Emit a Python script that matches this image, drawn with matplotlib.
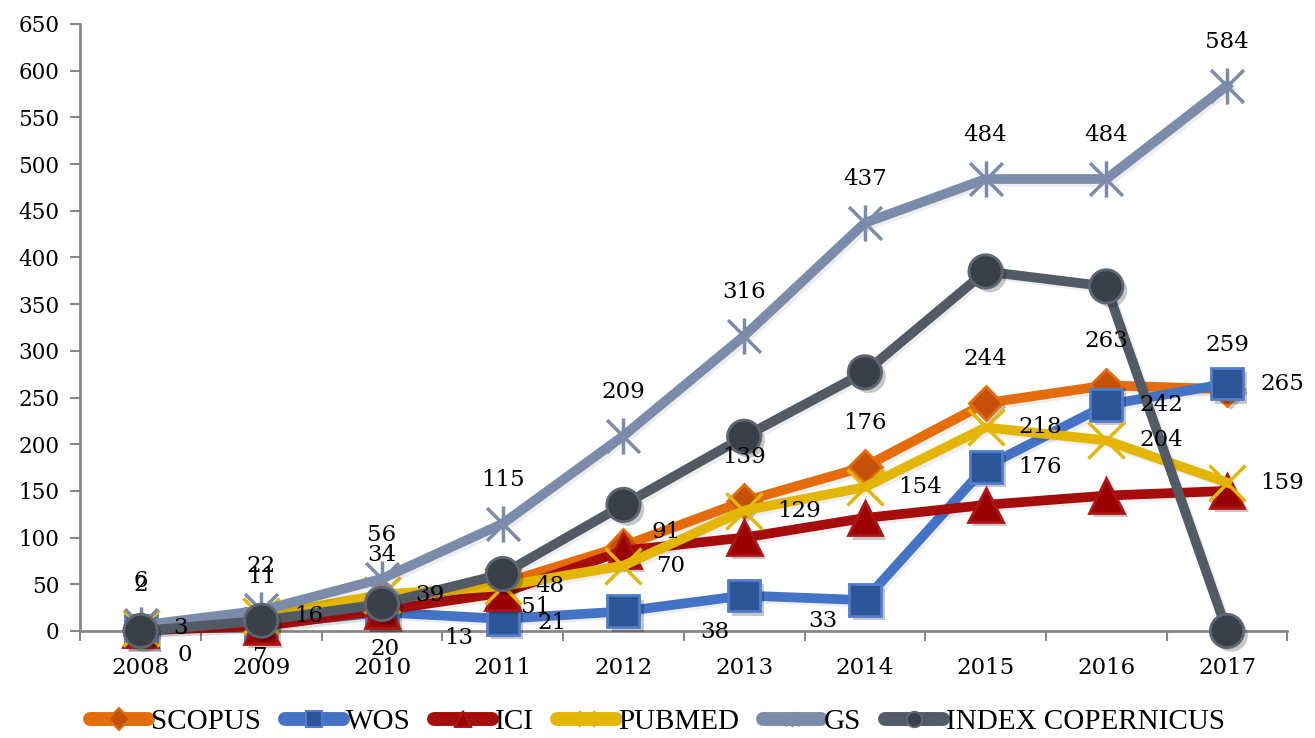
import matplotlib
matplotlib.use("Agg")
import matplotlib.pyplot as plt
import matplotlib.patheffects as pe
from matplotlib.path import Path
from matplotlib.lines import Line2D

# données
years = ["2008", "2009", "2010", "2011", "2012", "2013", "2014", "2015", "2016", "2017"]
scopus = [2, 11, 34, 51, 91, 139, 176, 244, 263, 259]
wos = [0, 7, 20, 13, 21, 38, 33, 176, 242, 265]
ici = [1, 5, 22, 41, 86, 100, 121, 135, 145, 150]
pubmed = [3, 16, 39, 48, 70, 129, 154, 218, 204, 159]
gs = [6, 22, 56, 115, 209, 316, 437, 484, 484, 584]
copernicus = [0, 11, 29, 61, 135, 208, 277, 385, 369, 0]

# marqueur "étoile" façon Excel (X + barre verticale)
star = Path([(-0.5, -0.5), (0.5, 0.5), (-0.5, 0.5), (0.5, -0.5), (0, -0.55), (0, 0.55)],
            [Path.MOVETO, Path.LINETO, Path.MOVETO, Path.LINETO, Path.MOVETO, Path.LINETO])

series = [
    # nom, valeurs, couleur ligne, marqueur, taille, face, bord, position étiquettes
    ("SCOPUS", scopus, "#E46C0A", "D", 17, "#C4510A", "#E46C0A", "above"),
    ("WOS", wos, "#4472C4", "s", 23, "#2D5597", "#4F7CCB", "right"),
    ("ICI", ici, "#A50D0D", "^", 25, "#9A0000", "#B01515", None),
    ("PUBMED", pubmed, "#E3B505", "x", 26, "none", "#E3B505", "right"),
    ("GS", gs, "#7B8BAA", star, 26, "none", "#7B8BAA", "above"),
    ("INDEX COPERNICUS", copernicus, "#525A65", "o", 24, "#3B4048", "#5D6672", None),
]

# étiquettes déplacées à la main (décalage en pixels du centre)
moved = {
    ("WOS", 0): (44, -24), ("WOS", 1): (-2, -33), ("WOS", 2): (3, -37),
    ("WOS", 3): (-44, -19), ("WOS", 4): (-71, -12), ("WOS", 5): (-29, -36),
    ("WOS", 6): (-42, -21),
    ("SCOPUS", 3): (33, -24), ("SCOPUS", 4): (43, 14),
}

num_font = "DejaVu Serif"

fig = plt.figure(figsize=(13.15, 7.38), dpi=100)
ax = fig.add_axes([0.061, 0.145, 0.918, 0.8225])

x = list(range(len(years)))
shadow = [pe.SimplePatchShadow(offset=(3, -3), shadow_rgbFace="black", alpha=0.22), pe.Normal()]

for i, (name, vals, col, mk, ms, mfc, mec, pos) in enumerate(series):
    z = 2 + i
    ax.plot(x, vals, color=col, lw=7, solid_joinstyle="round", zorder=z,
            path_effects=[pe.SimpleLineShadow(offset=(2, -2), alpha=0.07), pe.Normal()])
    if mfc == "none":
        ax.plot(x, vals, ls="none", marker=mk, ms=ms, mfc="none", mec=mec, mew=2.5, zorder=z)
    else:
        ax.plot(x, vals, ls="none", marker=mk, ms=ms, mfc=mfc, mec=mec, mew=2, zorder=z,
                path_effects=shadow)
    if pos is None:
        continue
    for j, v in enumerate(vals):
        if (name, j) in moved:
            off = moved[(name, j)]
            ax.annotate(str(v), (j, v), xytext=off, textcoords="offset pixels",
                        ha="center", va="center", fontsize=16.5, family=num_font, zorder=20)
        elif pos == "above":
            ax.annotate(str(v), (j, v), xytext=(0, 44), textcoords="offset pixels",
                        ha="center", va="center", fontsize=16.5, family=num_font, zorder=20)
        else:
            ax.annotate(str(v), (j, v), xytext=(33, 0), textcoords="offset pixels",
                        ha="left", va="center", fontsize=16.5, family=num_font, zorder=20)

ax.set_xlim(-0.5, len(years) - 0.5)
ax.set_ylim(0, 650)
ax.set_yticks(range(0, 651, 50))
ax.set_xticks([k - 0.5 for k in range(len(years) + 1)])
ax.set_xticklabels([])
ax.set_xticks(x, minor=True)
ax.set_xticklabels(years, minor=True, fontsize=16.5, family=num_font)
ax.tick_params(axis="x", which="minor", length=0, pad=19)
ax.tick_params(axis="x", which="major", length=7, width=1.5, color="#878787")
ax.tick_params(axis="y", length=7, width=1.5, color="#878787", pad=8)
for lab in ax.get_yticklabels():
    lab.set_family(num_font)
    lab.set_fontsize(15.5)

for s in ["top", "right"]:
    ax.spines[s].set_visible(False)
for s in ["left", "bottom"]:
    ax.spines[s].set_color("#878787")
    ax.spines[s].set_linewidth(2)
for art in ax.lines:
    art.set_clip_on(False)

handles = []
for name, vals, col, mk, ms, mfc, mec, pos in series:
    handles.append(Line2D([0], [0], color=col, lw=10, solid_capstyle="round", marker=mk,
                          ms=11, mfc=mfc, mec=mec, mew=1.5))
fig.legend(handles, [s[0] for s in series], loc="center", bbox_to_anchor=(0.5, 0.022),
           ncol=6, frameon=False, handlelength=2.0, handletextpad=0.1, columnspacing=0.8,
           prop={"family": "Liberation Serif", "size": 21})

fig.savefig("out.png", dpi=100)
